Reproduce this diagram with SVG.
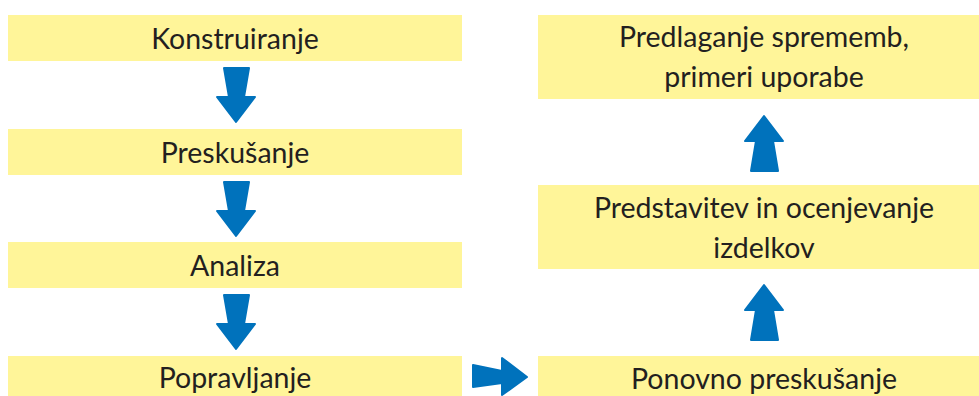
<svg xmlns="http://www.w3.org/2000/svg" width="979" height="396" viewBox="0 0 979 396">
<style>
.box{fill:#FFF599}
.t{font-family:Lato,"Liberation Sans",sans-serif;font-size:28.5px;fill:#231F20;text-anchor:middle}
.ar{fill:#0072BC;stroke:#0072BC;stroke-width:2;stroke-linejoin:round}
</style>
<defs>
<path id="down" d="M-12,0 L13,0 L8,29 L19,29 L0,54 L-19,29 L-7,29 Z"/>
<path id="up" d="M-13,55 L14,55 L9,25 L19,25 L0,0 L-19,25 L-8,25 Z"/>
</defs>
<rect width="979" height="396" fill="#fff"/>
<g id="n1"><rect class="box" x="8" y="15" width="454" height="46"/><text class="t" x="235" y="49">Konstruiranje</text></g>
<g id="n2"><rect class="box" x="8" y="129" width="454" height="46"/><text class="t" x="235" y="163">Preskušanje</text></g>
<g id="n3"><rect class="box" x="8" y="242" width="454" height="46"/><text class="t" x="235" y="276">Analiza</text></g>
<g id="n4"><rect class="box" x="8" y="356" width="454" height="46"/><text class="t" x="235" y="388">Popravljanje</text></g>
<g id="n5"><rect class="box" x="538" y="356" width="452" height="46"/><text class="t" x="764" y="389">Ponovno preskušanje</text></g>
<g id="n6"><rect class="box" x="538" y="185" width="452" height="84"/><text class="t" x="764" y="218">Predstavitev in ocenjevanje</text><text class="t" x="764" y="258">izdelkov</text></g>
<g id="n7"><rect class="box" x="538" y="15" width="452" height="84"/><text class="t" x="764" y="47">Predlaganje sprememb,</text><text class="t" x="764" y="87">primeri uporabe</text></g>
<g id="connectors">
<use href="#down" class="ar" x="236" y="68"/>
<use href="#down" class="ar" x="236" y="182"/>
<use href="#down" class="ar" x="236" y="295"/>
<path class="ar" d="M473,365 L473,387 L502,383 L502,395 L527,377 L502,358 L502,371 Z"/>
<use href="#up" class="ar" x="764" y="285"/>
<use href="#up" class="ar" x="764" y="116"/>
</g>
</svg>
